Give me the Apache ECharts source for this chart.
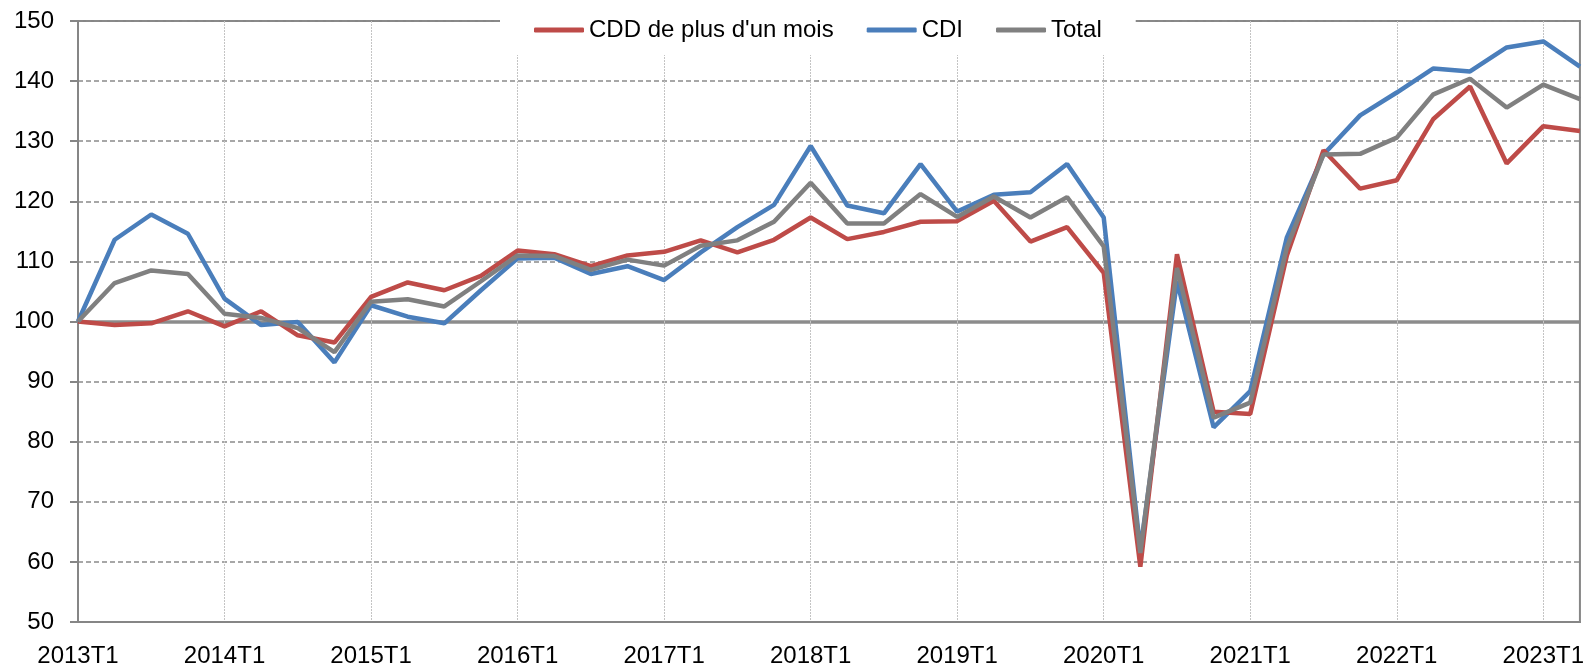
<!DOCTYPE html>
<html>
<head>
<meta charset="utf-8">
<script src="https://cdn.jsdelivr.net/npm/echarts@6/dist/echarts.min.js"></script>
<style>
  html, body { margin: 0; padding: 0; background: #fff; }
  #main { width: 1587px; height: 669px; }
</style>
</head>
<body>
<div id="main"></div>
<script>
var quarters = [
    '2013T1','2013T2','2013T3','2013T4',
    '2014T1','2014T2','2014T3','2014T4',
    '2015T1','2015T2','2015T3','2015T4',
    '2016T1','2016T2','2016T3','2016T4',
    '2017T1','2017T2','2017T3','2017T4',
    '2018T1','2018T2','2018T3','2018T4',
    '2019T1','2019T2','2019T3','2019T4',
    '2020T1','2020T2','2020T3','2020T4',
    '2021T1','2021T2','2021T3','2021T4',
    '2022T1','2022T2','2022T3','2022T4',
    '2023T1','2023T2'
];

var cdd = [
    100, 99.4, 99.7, 101.7,
    99.2, 101.7, 97.7, 96.5,
    104.1, 106.5, 105.2, 107.6,
    111.8, 111.2, 109.2, 111.0,
    111.6, 113.5, 111.5, 113.6,
    117.3, 113.7, 114.9, 116.6,
    116.7, 120.1, 113.3, 115.7,
    108.1, 59.2, 111.2, 85.0,
    84.6, 111.0, 128.5, 122.1,
    123.5, 133.7, 139.1, 126.3,
    132.5, 131.7
];

var cdi = [
    100, 113.6, 117.8, 114.6,
    103.8, 99.4, 99.9, 93.2,
    102.7, 100.8, 99.7, 105.2,
    110.5, 110.6, 107.9, 109.2,
    106.9, 111.5, 115.7, 119.4,
    129.2, 119.3, 118.0, 126.2,
    118.3, 121.1, 121.5, 126.2,
    117.3, 62.0, 106.7, 82.4,
    88.4, 114.0, 127.8, 134.3,
    138.1, 142.1, 141.6, 145.6,
    146.6, 142.4
];

var total = [
    100, 106.4, 108.5, 107.9,
    101.3, 100.6, 98.9, 94.9,
    103.3, 103.7, 102.5, 106.7,
    111.0, 110.9, 108.6, 110.3,
    109.3, 112.6, 113.5, 116.6,
    123.1, 116.3, 116.3, 121.2,
    117.4, 120.8, 117.3, 120.7,
    112.5, 61.5, 108.9, 84.0,
    86.5, 112.3, 127.8, 127.9,
    130.6, 137.8, 140.4, 135.6,
    139.4, 137.0
];

var seriesNames = ['CDD de plus d\'un mois', 'CDI', 'Total'];
var font = '"Liberation Sans", Arial, sans-serif';

// un libellé par année (T1)
function yearTick(i) {
    return i % 4 === 0;
}

var option = {
    animation: false,
    textStyle: { fontFamily: font },
    grid: {
        left: 78,
        right: 4,
        top: 21,
        bottom: 47,
        show: true,
        borderColor: '#868686',
        borderWidth: 2
    },
    legend: {
        left: 500,
        top: 0,
        padding: [18, 34, 13, 34],
        backgroundColor: '#ffffff',
        itemWidth: 50,
        itemHeight: 5,
        itemGap: 33,
        icon: 'roundRect',
        textStyle: {
            color: '#000',
            fontSize: 24,
            fontFamily: font
        },
        data: seriesNames
    },
    xAxis: [{
        type: 'category',
        boundaryGap: false,
        data: quarters,
        axisLine: { lineStyle: { color: '#868686', width: 2 } },
        axisTick: { show: false },
        axisLabel: {
            interval: yearTick,
            color: '#000',
            fontSize: 24,
            fontFamily: font,
            margin: 22
        },
        splitLine: {
            show: true,
            interval: yearTick,
            lineStyle: { color: '#c4c4c4', width: 1, type: [2, 1] }
        }
    }],
    yAxis: [{
        type: 'value',
        min: 50,
        max: 150,
        interval: 10,
        axisLine: { show: true, lineStyle: { color: '#868686', width: 2 } },
        axisTick: { show: true, length: 8, lineStyle: { color: '#868686', width: 2 } },
        axisLabel: {
            color: '#000',
            fontSize: 24,
            fontFamily: font,
            margin: 24
        },
        splitLine: {
            lineStyle: { color: '#8a8a8a', width: 1.5, type: [5, 3] }
        }
    }, {
        // ligne de base 100
        type: 'value',
        min: 50,
        max: 150,
        interval: 50,
        position: 'left',
        axisLine: { show: false },
        axisTick: { show: false },
        axisLabel: { show: false },
        splitLine: {
            show: true,
            lineStyle: { color: ['rgba(0,0,0,0)', '#8c8c8c', 'rgba(0,0,0,0)'], width: 3.5, type: 'solid' }
        }
    }],
    series: [{
        name: 'CDI',
        type: 'line',
        data: cdi,
        symbol: 'none',
        color: '#4a7ebb',
        lineStyle: { width: 4.5, color: '#4a7ebb' }
    }, {
        name: 'CDD de plus d\'un mois',
        type: 'line',
        data: cdd,
        symbol: 'none',
        color: '#be4b48',
        lineStyle: { width: 4.5, color: '#be4b48' }
    }, {
        name: 'Total',
        type: 'line',
        data: total,
        symbol: 'none',
        color: '#808080',
        lineStyle: { width: 4.5, color: '#808080' }
    }]
};

var chart = echarts.init(document.getElementById('main'));
chart.setOption(option);
</script>
</body>
</html>
